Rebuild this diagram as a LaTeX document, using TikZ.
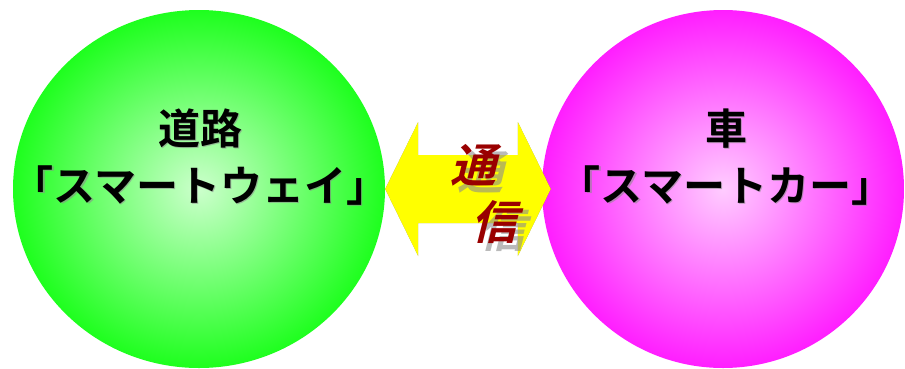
\documentclass[tikz,border=0pt]{standalone}
\usepackage{fontspec}
\newfontfamily\jpfont{Noto Sans CJK JP Bold}
\newfontfamily\jpslant{Noto Sans CJK JP Bold}[FakeSlant=0.25]
\usetikzlibrary{shapes.geometric,calc,positioning}
\definecolor{roadgreen}{HTML}{1EFF1E}
\definecolor{roadlight}{HTML}{CCFFCC}
\definecolor{carpink}{HTML}{FF1EFF}
\definecolor{carlight}{HTML}{FFCCFF}
\definecolor{linkred}{HTML}{990000}
\definecolor{linkyellow}{HTML}{FFFF00}

\tikzset{
  bubble/.style={ellipse, inner sep=0pt, minimum width=372pt, minimum height=358pt},
  bubbletext/.style={align=center, font=\jpfont\fontsize{42}{57}\selectfont},
  linktext/.style={font=\jpslant\fontsize{46}{50}\selectfont},
  textshadow/.style={text=black!45, opacity=0.6}
}

\begin{document}
\begin{tikzpicture}[x=1pt, y=-1pt]
  % Fixed bounding box
  \path[use as bounding box] (0,0) rectangle (905,368);

  % Two spheres
  \node[bubble, inner color=roadlight, outer color=roadgreen] (road) at (199,189) {};
  \node[bubble, minimum width=362pt, inner color=carlight, outer color=carpink] (car) at (723,189) {};

  % Double arrow between them
  \coordinate (tipL) at (road.east);
  \coordinate (tipR) at ([xshift=9pt]car.west);
  \def\linkpath{(tipL) -- ++(33,-67) -- ++(0,33) -- ($(tipR)+(-33,-34)$) -- ++(0,-33)
    -- (tipR) -- ++(-33,67) -- ++(0,-33) -- ($(tipL)+(33,34)$) -- ++(0,33) -- cycle}
  \begin{scope}[shift={(8,8)}]
    \fill[black, opacity=0.45] \linkpath;
  \end{scope}
  \fill[linkyellow] \linkpath;

  % Label in the arrow
  \node[linktext, textshadow] (tsushadow) at (480,172) {通};
  \node[linktext, textshadow] (shinshadow) at (502,230) {信};
  \node[linktext, text=linkred] (tsu) at (473,165) {通};
  \node[linktext, text=linkred] (shin) at (494,222) {信};

  % Labels in the spheres
  \node[bubbletext, textshadow] (roadshadow) at (201.5,158.5) {道路\\「スマートウェイ」};
  \node[bubbletext] (roadtxt) at (200,157) {道路\\「スマートウェイ」};
  \node[bubbletext, textshadow] (carshadow) at (727.5,158.5) {車\\「スマートカー」};
  \node[bubbletext] (cartxt) at (726,157) {車\\「スマートカー」};
\end{tikzpicture}
\end{document}
